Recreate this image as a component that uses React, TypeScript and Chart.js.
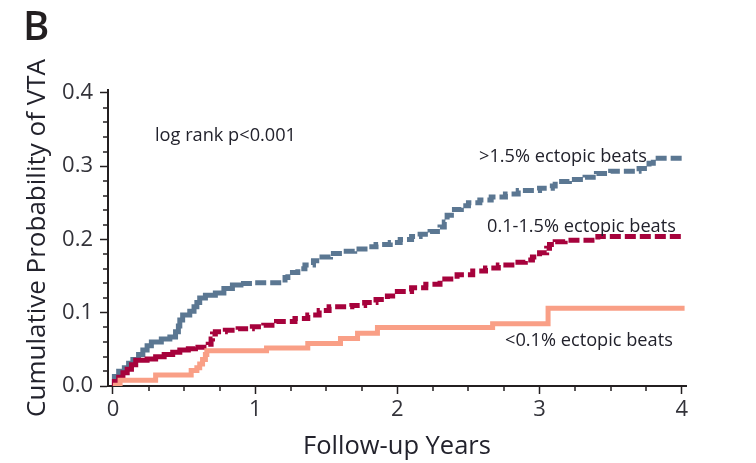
import React, { useEffect, useRef } from 'react';
import { Chart, registerables } from 'chart.js';

Chart.register(...registerables);

// Kaplan-Meier style cumulative incidence: event times (years) and level after each step
const highTimes = [0, 0.01, 0.04, 0.08, 0.11, 0.14, 0.18, 0.21, 0.24, 0.27, 0.34, 0.4, 0.44, 0.46, 0.47, 0.49, 0.54, 0.57, 0.59, 0.61, 0.65, 0.72, 0.78, 0.84, 0.9, 1.0, 1.21, 1.23, 1.3, 1.35, 1.41, 1.47, 1.53, 1.62, 1.7, 1.8, 1.85, 1.95, 2.02, 2.1, 2.16, 2.23, 2.3, 2.33, 2.35, 2.38, 2.45, 2.5, 2.58, 2.66, 2.76, 2.85, 3.0, 3.09, 3.11, 3.21, 3.32, 3.4, 3.5, 3.7, 3.77, 3.8, 4.02];
const highRisk = [0, 0.013, 0.02, 0.025, 0.031, 0.036, 0.043, 0.049, 0.055, 0.06, 0.064, 0.067, 0.074, 0.082, 0.09, 0.097, 0.102, 0.108, 0.114, 0.12, 0.124, 0.127, 0.133, 0.138, 0.14, 0.141, 0.148, 0.155, 0.16, 0.165, 0.171, 0.176, 0.181, 0.184, 0.187, 0.19, 0.193, 0.196, 0.2, 0.204, 0.207, 0.211, 0.217, 0.224, 0.233, 0.241, 0.246, 0.25, 0.254, 0.258, 0.262, 0.267, 0.27, 0.273, 0.279, 0.282, 0.285, 0.29, 0.293, 0.297, 0.304, 0.311, 0.311];

const midTimes = [0, 0.01, 0.04, 0.07, 0.1, 0.13, 0.16, 0.24, 0.3, 0.36, 0.42, 0.47, 0.53, 0.58, 0.67, 0.69, 0.7, 0.72, 0.79, 0.88, 0.98, 1.06, 1.15, 1.28, 1.37, 1.45, 1.52, 1.68, 1.77, 1.85, 1.93, 2.0, 2.1, 2.2, 2.3, 2.42, 2.53, 2.62, 2.71, 2.83, 2.9, 2.95, 3.0, 3.05, 3.07, 3.11, 3.18, 3.41, 4.02];
const midRisk = [0, 0.006, 0.012, 0.018, 0.023, 0.029, 0.035, 0.037, 0.04, 0.043, 0.046, 0.049, 0.051, 0.053, 0.057, 0.064, 0.071, 0.074, 0.076, 0.078, 0.081, 0.083, 0.088, 0.092, 0.097, 0.103, 0.108, 0.11, 0.114, 0.118, 0.123, 0.129, 0.134, 0.139, 0.146, 0.152, 0.157, 0.161, 0.165, 0.169, 0.172, 0.176, 0.182, 0.188, 0.193, 0.197, 0.199, 0.204, 0.204];

const lowTimes = [0, 0.05, 0.3, 0.55, 0.59, 0.61, 0.63, 0.65, 0.66, 1.08, 1.37, 1.6, 1.72, 1.86, 2.67, 3.06, 4.02];
const lowRisk = [0.001, 0.008, 0.015, 0.021, 0.025, 0.03, 0.036, 0.043, 0.048, 0.052, 0.058, 0.065, 0.072, 0.08, 0.085, 0.106, 0.106];

const xTicks = [0, 1, 2, 3, 4];
const yTicks = [0, 0.1, 0.2, 0.3, 0.4];

const groupLabels = ['>1.5% ectopic beats', '0.1-1.5% ectopic beats', '<0.1% ectopic beats'];
const panelLetter = 'B';
const testNote = 'log rank p<0.001';
const xTitle = 'Follow-up Years';
const yTitle = 'Cumulative Probability of VTA';

const FONT = "'Open Sans', 'Noto Sans', sans-serif";
const INK = '#22222c';
const AXIS = '#231f20';
const BLUE = '#5b7792';
const RED = '#a6023c';
const SALMON = '#f99f86';

const toPoints = (t: number[], v: number[]) => t.map((x, i) => ({ x, y: v[i] }));

// minor tick marks and in-plot text
const decorations = {
  id: 'decorations',
  afterDraw(chart: any) {
    const { ctx, scales, chartArea } = chart;
    const xs = scales.x;
    const ys = scales.y;
    ctx.save();
    ctx.strokeStyle = AXIS;
    ctx.lineWidth = 1.5;
    ctx.beginPath();
    for (let i = 1; i < 20; i++) {
      if (i % 5 === 0) continue;
      const py = Math.round(ys.getPixelForValue(i * 0.02));
      ctx.moveTo(chartArea.left, py);
      ctx.lineTo(chartArea.left - 5, py);
    }
    for (let i = 1; i < 16; i++) {
      if (i % 4 === 0) continue;
      const px = Math.round(xs.getPixelForValue(i * 0.25));
      ctx.moveTo(px, chartArea.bottom);
      ctx.lineTo(px, chartArea.bottom + 5);
    }
    ctx.stroke();

    ctx.fillStyle = '#231f20';
    ctx.textBaseline = 'alphabetic';
    ctx.textAlign = 'left';
    ctx.font = `600 40px ${FONT}`;
    ctx.fillText(panelLetter, 23, 40);

    ctx.fillStyle = INK;
    ctx.font = `500 18.2px ${FONT}`;
    ctx.fillText(testNote, 155, 141);
    ctx.fillText(groupLabels[0], 479, 162);
    ctx.fillText(groupLabels[1], 487, 232);
    ctx.fillText(groupLabels[2], 505, 346);
    ctx.restore();
  },
};

export default function App() {
  const ref = useRef<HTMLCanvasElement | null>(null);

  useEffect(() => {
    if (!ref.current) return;
    const line = (data: any, color: string, dashFrom: number | null) => ({
      data,
      borderColor: color,
      backgroundColor: color,
      borderWidth: 5,
      stepped: true,
      pointRadius: 0,
      fill: false,
      borderCapStyle: 'butt',
      borderJoinStyle: 'miter',
      segment: {
        borderDash: (c: any) =>
          dashFrom !== null && c.p0.parsed.x >= dashFrom ? [11, 4] : undefined,
      },
    });

    const chart = new Chart(ref.current, {
      type: 'line',
      data: {
        datasets: [
          { label: groupLabels[2], ...line(toPoints(lowTimes, lowRisk), SALMON, null) },
          { label: groupLabels[1], ...line(toPoints(midTimes, midRisk), RED, 0.55) },
          { label: groupLabels[0], ...line(toPoints(highTimes, highRisk), BLUE, 0.85) },
        ],
      } as any,
      options: {
        animation: false,
        responsive: false,
        parsing: false as any,
        layout: { padding: { top: 90, right: 70, left: 0, bottom: 0 } },
        plugins: {
          legend: { display: false },
          tooltip: { enabled: false },
          title: { display: false },
        },
        scales: {
          x: {
            type: 'linear',
            min: -0.035,
            max: 4.03,
            bounds: 'data',
            afterFit: (s: any) => {
              s.height = 77;
            },
            afterBuildTicks: (s: any) => {
              s.ticks = xTicks.map((value) => ({ value }));
            },
            ticks: {
              color: '#33333a',
              font: { family: FONT, size: 22, weight: '500' },
              padding: 3,
              callback: (v: any) => String(v),
            },
            grid: {
              display: true,
              drawOnChartArea: false,
              drawTicks: true,
              tickLength: 8,
              tickWidth: 1.5,
              tickColor: AXIS,
            },
            border: { display: true, color: AXIS, width: 2 },
            title: {
              display: true,
              text: xTitle,
              color: INK,
              font: { family: FONT, size: 25.5, weight: '500', lineHeight: 1.2 },
              padding: { top: 0, bottom: 1 },
            },
          },
          y: {
            type: 'linear',
            min: 0,
            max: 0.404,
            bounds: 'data',
            afterFit: (s: any) => {
              s.width = 108;
            },
            afterBuildTicks: (s: any) => {
              s.ticks = yTicks.map((value) => ({ value }));
            },
            ticks: {
              color: '#33333a',
              font: { family: FONT, size: 22, weight: '500' },
              padding: 7,
              callback: (v: any) => Number(v).toFixed(1),
            },
            grid: {
              display: true,
              drawOnChartArea: false,
              drawTicks: true,
              tickLength: 8,
              tickWidth: 1.5,
              tickColor: AXIS,
            },
            border: { display: true, color: AXIS, width: 2 },
            title: {
              display: true,
              text: yTitle,
              color: INK,
              font: { family: FONT, size: 26, weight: '500', lineHeight: 1.2 },
              padding: { top: 22, bottom: 0 },
            },
          },
        },
      } as any,
      plugins: [decorations],
    });
    return () => chart.destroy();
  }, []);

  return (
    <div style={{ position: 'absolute', left: 0, top: 0, width: 756, height: 463, background: '#fff' }}>
      <canvas ref={ref} width={756} height={463} style={{ display: 'block', width: 756, height: 463 }} />
    </div>
  );
}
